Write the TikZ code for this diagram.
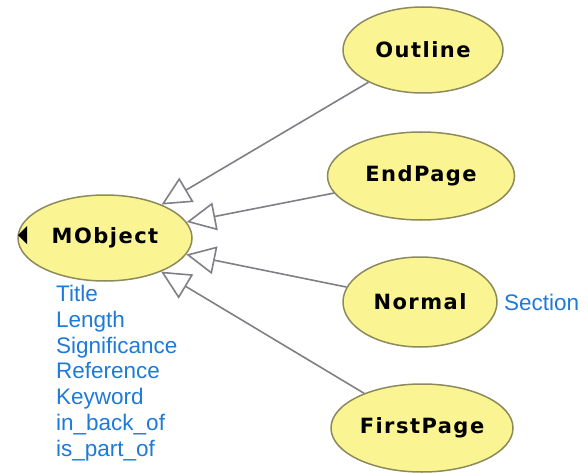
\documentclass[tikz,border=0pt]{standalone}
\usepackage{fontspec}
\setmainfont{Liberation Sans}
\newfontfamily\classfont[LetterSpace=7]{DejaVu Sans}
\usetikzlibrary{shapes.geometric,arrows.meta}
\definecolor{classfill}{HTML}{FAF592}
\definecolor{classline}{HTML}{8C8A5C}
\definecolor{slotblue}{HTML}{1E7AD8}
\definecolor{isaline}{HTML}{7F7F86}
\tikzset{
    cls/.style={ellipse, draw=classline, fill=classfill, line width=1.5pt,
        inner sep=0pt, font=\classfont\bfseries\fontsize{21}{21}\selectfont},
    slots/.style={text=slotblue, font=\fontsize{22.5}{25.8}\selectfont, align=left},
    isa/.style={draw=isaline, line width=1.6pt,
        -{Triangle[open, length=29pt, width=28pt, fill=white]}}
}
\begin{document}
\begin{tikzpicture}[x=1pt,y=-1pt]
            \useasboundingbox (0,0) rectangle (588,473);
            % classes
            \node[cls, minimum width=174pt, minimum height=86pt] (mobject) at (105,238) {MObject};
            \node[cls, minimum width=160pt, minimum height=86pt] (outline) at (423,50) {Outline};
            \node[cls, minimum width=187pt, minimum height=88pt] (endpage) at (421,176) {EndPage};
            \node[cls, minimum width=154pt, minimum height=90pt] (normal) at (420,302) {Normal};
            \node[cls, minimum width=182pt, minimum height=88pt] (firstpage) at (422,428) {FirstPage};
            \fill (18,235) -- (27,226) -- (27,244) -- cycle;
            % is-a links
            \draw[isa] (outline) -- (mobject);
            \draw[isa] (endpage) -- (mobject);
            \draw[isa] (normal) -- (mobject);
            \draw[isa] (firstpage) -- (mobject);
            % slots
            \node[slots, anchor=north west, inner sep=0pt] (mobjectslots) at (56,285)
                {Title\\Length\\Significance\\Reference\\Keyword\\in\_back\_of\\is\_part\_of};
            \node[slots, anchor=west, inner sep=0pt] (normalslots) at (504,302) {Section};
\end{tikzpicture}
\end{document}
